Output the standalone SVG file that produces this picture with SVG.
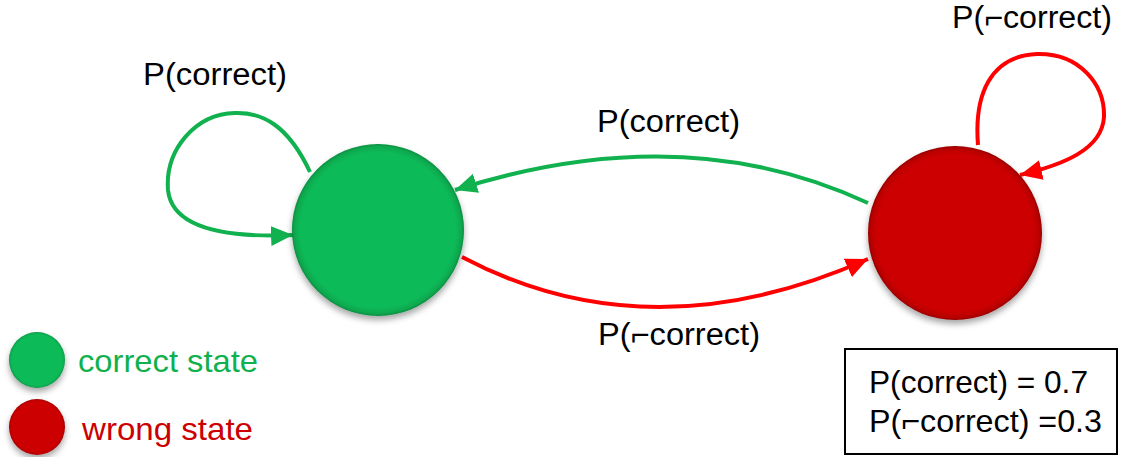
<svg xmlns="http://www.w3.org/2000/svg" width="1122" height="457" viewBox="0 0 1122 457">
  <style>
    .lbl { font-family: "Liberation Sans", "DejaVu Sans", Arial, sans-serif; font-size: 31px; fill: #000; }
    .box { font-family: "Liberation Sans", "DejaVu Sans", Arial, sans-serif; font-size: 32px; fill: #000; }
    .leg { font-family: "Liberation Sans", Arial, sans-serif; font-size: 32px; }
    .g-line { fill: none; stroke: #12B14F; stroke-width: 4; }
    .r-line { fill: none; stroke: #FF0000; stroke-width: 4; }
  </style>
  <defs>
    <radialGradient id="gFill" cx="50%" cy="50%" r="50%">
      <stop offset="0.9" stop-color="#0BBA58"/>
      <stop offset="0.97" stop-color="#09A84E"/>
      <stop offset="1" stop-color="#078C40"/>
    </radialGradient>
    <radialGradient id="rFill" cx="50%" cy="50%" r="50%">
      <stop offset="0.9" stop-color="#CC0505"/>
      <stop offset="0.97" stop-color="#B80303"/>
      <stop offset="1" stop-color="#950000"/>
    </radialGradient>
    <filter id="shadow" x="-20%" y="-20%" width="140%" height="150%">
      <feDropShadow dx="0" dy="4" stdDeviation="3" flood-color="#000" flood-opacity="0.35"/>
    </filter>
    <marker id="gArrow" markerUnits="userSpaceOnUse" markerWidth="24" markerHeight="20" refX="22" refY="10" orient="auto">
      <path d="M0,0 L22,10 L0,20 Z" fill="#12B14F"/>
    </marker>
    <marker id="rArrow" markerUnits="userSpaceOnUse" markerWidth="24" markerHeight="20" refX="22" refY="10" orient="auto">
      <path d="M0,0 L22,10 L0,20 Z" fill="#FF0000"/>
    </marker>
  </defs>

  <rect width="1122" height="457" fill="#FFFFFF"/>

  <!-- transitions -->
  <g id="connectors">
    <path class="g-line" d="M310,172 C288,125 262,112 235,113 C195,114 165,150 168,190 C172,228 225,238 293,235" marker-end="url(#gArrow)"/>
    <path class="r-line" d="M978,145 C974,95 990,56 1037,54 C1080,53 1105,85 1104,117 C1102,150 1062,165 1020,175" marker-end="url(#rArrow)"/>
    <path class="g-line" d="M868,203 Q684,117 455,190" marker-end="url(#gArrow)"/>
    <path class="r-line" d="M462,257 Q649,356 868,259" marker-end="url(#rArrow)"/>
  </g>

  <!-- transition labels -->
  <g id="edge-labels">
    <text class="lbl" x="143" y="85" textLength="144" lengthAdjust="spacingAndGlyphs">P(correct)</text>
    <text class="lbl" x="597" y="132" textLength="143" lengthAdjust="spacingAndGlyphs">P(correct)</text>
    <text class="lbl" x="952" y="28" textLength="160" lengthAdjust="spacingAndGlyphs">P(⌐correct)</text>
    <text class="lbl" x="598" y="345" textLength="162" lengthAdjust="spacingAndGlyphs">P(⌐correct)</text>
  </g>

  <g id="correct-state">
    <circle cx="378" cy="230" r="86" fill="url(#gFill)" filter="url(#shadow)"/>
  </g>

  <g id="wrong-state">
    <circle cx="955" cy="233" r="87" fill="url(#rFill)" filter="url(#shadow)"/>
  </g>

  <!-- legend -->
  <g id="legend">
    <circle cx="37" cy="360" r="28" fill="url(#gFill)" filter="url(#shadow)"/>
    <text class="leg" x="78" y="372" fill="#0FB14E" textLength="180" lengthAdjust="spacingAndGlyphs">correct state</text>
    <circle cx="37" cy="427" r="28" fill="url(#rFill)" filter="url(#shadow)"/>
    <text class="leg" x="82" y="440" fill="#CC0000" textLength="171" lengthAdjust="spacingAndGlyphs">wrong state</text>
  </g>

  <!-- probability box -->
  <g id="prob-box">
    <rect x="845" y="349" width="272" height="105" fill="#FFFFFF" stroke="#000" stroke-width="2"/>
    <text class="box" x="869" y="393" textLength="219" lengthAdjust="spacingAndGlyphs">P(correct) = 0.7</text>
    <text class="box" x="869" y="432" textLength="233" lengthAdjust="spacingAndGlyphs">P(⌐correct) =0.3</text>
  </g>
</svg>
